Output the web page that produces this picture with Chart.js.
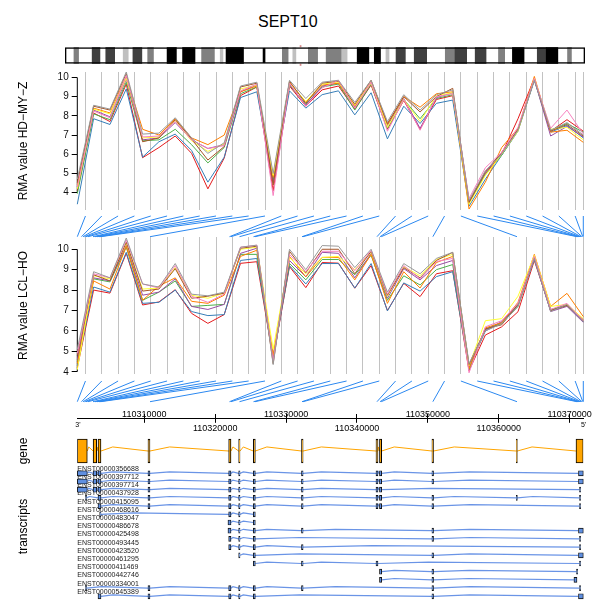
<!DOCTYPE html>
<html>
<head>
<meta charset="utf-8">
<script src="https://cdn.jsdelivr.net/npm/chart.js@4.4.1/dist/chart.umd.min.js"></script>
<style>
  body { margin: 0; background: #fff; }
  #pagina { position: relative; width: 592px; height: 601px; overflow: hidden; background: #fff; }
  #pagina canvas { position: absolute; left: 0; }
  #titulo { position: absolute; top: 13px; left: 258px; font: 16px "Liberation Sans", Arial, sans-serif; color: #000; }
</style>
</head>
<body>
<div id="pagina">
  <div id="titulo">SEPT10</div>
  <canvas id="ideograma" width="592" height="31" style="top:40px"></canvas>
  <canvas id="expr-hd" width="592" height="150" style="top:65px"></canvas>
  <canvas id="conex-1" width="592" height="28" style="top:212px"></canvas>
  <canvas id="expr-lcl" width="592" height="147" style="top:232px"></canvas>
  <canvas id="conex-2" width="592" height="26" style="top:378px"></canvas>
  <canvas id="eje" width="592" height="35" style="top:400px"></canvas>
  <canvas id="gen" width="592" height="28" style="top:437px"></canvas>
  <canvas id="transcritos" width="592" height="135" style="top:466px"></canvas>
</div>
<script>
// muestras (paleta Set1)
const sampleColors = ['#E41A1C', '#377EB8', '#4DAF4A', '#984EA3', '#FF7F00', '#FFFF33', '#A65628', '#F781BF', '#999999'];

// sondas: numero de orden y lineas verticales
const probeNo = [1, 2, 3, 4, 5, 6, 7, 8, 9, 10, 11, 12, 13, 14, 15, 16, 17, 18, 19, 20, 21, 22, 23, 24, 25, 26, 27, 28, 29, 30, 31, 32];
const probeIdx = [1.5, 2.5, 3.5, 4.5, 5.5, 6.5, 7.5, 8.5, 9.5, 10.5, 11.5, 12.5, 13.5, 14.5, 15.5, 16.5, 17.5, 18.5, 19.5, 20.5, 21.5, 22.5, 23.5, 24.5, 25.5, 26.5, 27.5, 28.5, 29.5, 30.5, 31.5, 32];
// posicion genomica de cada sonda
const probePos = [110300550, 110301143, 110301354, 110301566, 110301777, 110302060, 110302765, 110303047,
  110303329, 110303611, 110303822, 110310804, 110322017, 110322228, 110323427, 110325402,
  110325613, 110332242, 110332383, 110342820, 110343250, 110343420, 110350700, 110362565,
  110371027, 110371168, 110371309, 110371450, 110371591, 110371732, 110371845, 110371915];

const yTicks = [4, 5, 6, 7, 8, 9, 10];

// RMA HD-MY-Z, una fila por muestra
const hdMyZ = [
  [4.1, 8.15, 7.7, 9.65, 5.82, 6.35, 6.95, 6.05, 4.2, 5.8, 9.05, 9.5, 4.1, 9.55, 8.5, 9.35, 9.55, 8.35, 9.6, 7.3, 8.8, 7.3, 8.85, 9.05, 3.45, 5.0, 6.0, 7.85, 9.95, 7.2, 7.8, 7.2],
  [3.4, 7.85, 7.55, 9.4, 5.85, 6.65, 7.05, 6.2, 4.55, 5.85, 8.95, 9.25, 4.6, 9.3, 8.4, 9.1, 9.3, 8.05, 9.2, 6.8, 8.5, 7.6, 8.65, 8.82, 3.3, 4.7, 5.95, 7.2, 9.85, 7.15, 7.5, 6.85],
  [3.95, 8.1, 7.8, 9.75, 6.7, 6.75, 7.3, 6.5, 5.55, 6.35, 9.15, 9.5, 4.7, 9.6, 8.6, 9.5, 9.65, 8.3, 9.65, 7.35, 8.85, 7.85, 8.9, 9.1, 3.5, 4.95, 5.95, 7.25, 9.9, 7.25, 7.6, 7.15],
  [4.3, 8.3, 7.95, 9.9, 6.75, 6.85, 7.65, 6.75, 6.3, 6.5, 9.25, 9.6, 4.5, 9.65, 8.55, 9.55, 9.7, 8.45, 9.7, 7.5, 8.9, 7.35, 8.95, 9.2, 3.55, 5.05, 6.05, 7.3, 9.9, 6.95, 7.45, 6.9],
  [4.4, 8.4, 8.15, 10.05, 7.3, 7.0, 7.85, 6.85, 6.5, 7.0, 9.25, 9.55, 4.8, 9.75, 8.7, 9.6, 9.7, 8.5, 9.75, 7.55, 9.0, 8.45, 9.15, 9.25, 3.15, 4.55, 6.35, 7.35, 10.05, 7.15, 7.25, 6.62],
  [4.2, 8.35, 8.1, 9.95, 6.85, 6.9, 7.75, 6.7, 6.15, 6.55, 9.4, 9.6, 4.9, 9.7, 8.75, 9.65, 9.75, 8.55, 9.7, 7.4, 8.85, 7.7, 9.05, 9.2, 3.4, 4.9, 6.0, 7.2, 9.95, 7.3, 7.4, 6.75],
  [4.5, 8.5, 8.3, 10.2, 6.65, 6.85, 7.8, 6.8, 5.7, 6.4, 9.5, 9.7, 4.4, 9.8, 8.65, 9.7, 9.8, 8.6, 9.85, 7.6, 9.0, 8.2, 9.0, 9.43, 3.5, 5.1, 6.1, 7.3, 9.9, 7.2, 7.55, 6.95],
  [4.3, 8.25, 7.9, 10.1, 6.9, 6.95, 7.7, 6.75, 6.3, 6.45, 9.3, 9.65, 3.85, 9.7, 8.5, 9.45, 9.85, 8.4, 9.75, 7.2, 8.85, 7.25, 9.0, 9.15, 3.7, 5.3, 6.1, 7.4, 9.95, 7.35, 8.3, 7.05],
  [4.7, 8.55, 8.35, 10.28, 7.05, 7.1, 7.9, 6.85, 6.05, 6.6, 9.55, 9.75, 5.0, 9.85, 8.9, 9.75, 9.85, 8.7, 9.85, 7.7, 9.1, 8.3, 9.1, 9.35, 3.6, 5.15, 6.0, 7.25, 9.85, 7.25, 7.65, 7.0]
];

// RMA LCL-HO, una fila por muestra
const lclHo = [
  [4.2, 8.0, 7.85, 9.8, 7.27, 7.42, 8.02, 6.86, 6.37, 6.8, 9.31, 9.39, 4.65, 9.15, 8.12, 9.35, 9.32, 8.09, 9.2, 7.0, 8.33, 7.68, 8.8, 8.95, 4.05, 5.8, 6.2, 6.94, 9.45, 7.0, 7.3, 6.55],
  [4.3, 8.15, 7.9, 9.85, 7.35, 7.4, 8.0, 6.95, 6.75, 6.8, 9.45, 9.55, 4.7, 9.2, 8.3, 9.3, 9.3, 8.1, 9.3, 6.98, 8.35, 7.95, 8.66, 8.9, 4.2, 6.0, 6.4, 7.25, 9.5, 7.0, 7.25, 6.45],
  [4.5, 8.55, 8.4, 10.1, 7.5, 7.9, 8.45, 7.2, 7.25, 7.3, 9.75, 9.75, 4.75, 9.3, 8.5, 9.5, 9.5, 8.75, 9.7, 7.5, 8.7, 8.25, 9.0, 9.25, 4.1, 6.1, 6.35, 7.2, 9.6, 7.05, 7.25, 6.5],
  [4.6, 8.6, 8.45, 10.2, 7.75, 7.9, 8.55, 7.2, 7.05, 7.3, 9.8, 10.05, 4.6, 9.45, 8.65, 9.85, 9.8, 8.6, 9.8, 7.6, 9.05, 8.5, 9.2, 9.45, 4.25, 6.05, 6.45, 7.3, 9.55, 6.95, 7.2, 6.42],
  [4.4, 8.45, 8.05, 10.15, 7.5, 8.2, 8.6, 7.45, 7.35, 7.75, 9.65, 9.95, 4.8, 9.65, 8.65, 9.6, 9.6, 8.5, 9.75, 7.35, 8.9, 8.1, 9.35, 9.65, 4.15, 6.15, 6.4, 7.4, 9.75, 7.2, 7.84, 6.7],
  [4.1, 8.7, 8.55, 10.3, 8.05, 8.1, 9.1, 7.75, 7.6, 7.85, 10.0, 10.1, 5.1, 9.6, 8.8, 9.6, 9.65, 9.0, 9.85, 7.7, 9.15, 8.7, 9.5, 9.75, 4.3, 6.5, 6.6, 7.7, 9.7, 7.2, 7.3, 6.6],
  [4.8, 8.75, 8.45, 10.35, 7.95, 8.05, 9.05, 7.6, 7.7, 7.85, 10.05, 10.15, 4.4, 9.9, 8.85, 10.0, 10.0, 8.8, 9.9, 7.75, 9.1, 8.6, 9.45, 9.85, 4.35, 6.1, 6.3, 7.3, 9.6, 7.0, 7.25, 6.5],
  [4.9, 8.8, 8.6, 10.45, 8.3, 8.1, 9.2, 7.7, 7.4, 7.8, 10.1, 10.2, 4.55, 9.75, 8.9, 9.9, 9.9, 8.95, 9.95, 7.8, 9.2, 8.55, 9.4, 9.55, 3.95, 6.2, 6.5, 7.35, 9.65, 7.05, 7.35, 6.5],
  [5.1, 8.9, 8.6, 10.55, 8.3, 8.15, 9.3, 7.8, 7.72, 7.9, 10.1, 10.2, 4.35, 10.0, 9.0, 10.18, 10.15, 9.1, 10.0, 7.9, 9.3, 8.8, 9.55, 9.85, 4.4, 6.0, 6.35, 7.2, 9.55, 6.95, 7.3, 6.45]
];

// ideograma del cromosoma 2 (porcentaje de la longitud)
const bandStart = [1.72, 5.22, 7.84, 11.19, 13.06, 15.9, 19.63, 22.61, 26.27, 29.85, 30.97, 41.79, 43.81, 46.79, 50.22, 53.21, 56.19, 59.48, 61.72, 63.66, 67.16, 73.13, 75.0, 78.88, 83.36, 86.04, 90.82, 92.54, 96.64];
const bandEnd = [2.61, 6.72, 9.55, 12.16, 14.78, 17.01, 21.42, 25.0, 28.73, 30.37, 34.33, 42.91, 44.4, 48.58, 53.21, 54.25, 58.43, 60.67, 62.31, 65.45, 69.55, 75.0, 77.24, 80.97, 84.55, 88.28, 92.54, 94.78, 97.39];
const bandStain = ['gpos50', 'gpos75', 'gpos75', 'gpos25', 'gpos75', 'gpos50', 'gpos100', 'gpos100', 'gpos50', 'gpos25', 'gpos100', 'gpos50', 'gpos25', 'gpos50', 'gpos50', 'gpos25', 'gpos100', 'gpos100', 'gpos25', 'gpos75', 'gpos75', 'gpos50', 'gpos75', 'gpos75', 'gpos50', 'gpos100', 'gpos75', 'gpos100', 'gpos50'];
const stainColors = { gpos100: '#000000', gpos75: '#404040', gpos50: '#808080', gpos25: '#c0c0c0' };
const centromere = 38.28;
const geneLocus = 45.3;

// region genomica y eje
const gMin = 110300550;
const gMax = 110371920;
const axisTicks = [110310000, 110320000, 110330000, 110340000, 110350000, 110360000, 110370000];
const topLabels = [110310000, 110330000, 110350000, 110370000];
const bottomLabels = [110320000, 110340000, 110360000];
const strandEnds = ["3'", "5'"];

// exones del gen
const geneStart = [110300550, 110302780, 110303470, 110310520, 110321900, 110323310, 110325370, 110332170, 110342680, 110343170, 110350570, 110362470, 110370890];
const geneEnd = [110301960, 110303290, 110303890, 110310800, 110322230, 110323500, 110325660, 110332400, 110342960, 110343480, 110350800, 110362620, 110371920];

// transcritos
const transcriptIds = ['ENST00000356688', 'ENST00000397712', 'ENST00000397714', 'ENST00000437928', 'ENST00000415095', 'ENST00000468616',
  'ENST00000483047', 'ENST00000486678', 'ENST00000425498', 'ENST00000493445', 'ENST00000423520', 'ENST00000461295',
  'ENST00000411469', 'ENST00000442746', 'ENST00000334001', 'ENST00000545389'];
const transcriptExons = [
  [[110300550, 110301960], [110302780, 110303290], [110303470, 110303890], [110310520, 110310800], [110321900, 110322230], [110323310, 110323500], [110325370, 110325660], [110332170, 110332400], [110342680, 110342960], [110343170, 110343480], [110350570, 110350800], [110371240, 110371920]],
  [[110300550, 110301960], [110302780, 110303290], [110303470, 110303890], [110310520, 110310800], [110321900, 110322230], [110323310, 110323500], [110325370, 110325660], [110332170, 110332400], [110342680, 110342960], [110343170, 110343480], [110350570, 110350800], [110371240, 110371920]],
  [[110300550, 110301960], [110302780, 110303290], [110303470, 110303890], [110310520, 110310800], [110321900, 110322230], [110323310, 110323500], [110325370, 110325660], [110332170, 110332400], [110342680, 110342960], [110343170, 110343480], [110371380, 110371540]],
  [[110301700, 110301860], [110303470, 110303890], [110310520, 110310800], [110321900, 110322230], [110323310, 110323500], [110325370, 110325660], [110332170, 110332400], [110342680, 110342960], [110343170, 110343480], [110350570, 110350800], [110362470, 110362620], [110371380, 110371540]],
  [[110303470, 110303890], [110310520, 110310800], [110321900, 110322230], [110323310, 110323500], [110325370, 110325660], [110332170, 110332400], [110342680, 110342960], [110343170, 110343480], [110350570, 110350800], [110371380, 110371540]],
  [[110303700, 110303890], [110321900, 110322230], [110323310, 110323500], [110325370, 110325660]],
  [[110321800, 110322230], [110323310, 110323500], [110325370, 110325660]],
  [[110321800, 110322230], [110323310, 110323500], [110325370, 110325660], [110332170, 110332400], [110350570, 110350800], [110371240, 110371920]],
  [[110321900, 110322230], [110323310, 110323500], [110325370, 110325660], [110350570, 110350800], [110371380, 110371540]],
  [[110321900, 110322230], [110323310, 110323500], [110325370, 110325660], [110332170, 110332400], [110371380, 110371540]],
  [[110323310, 110323500], [110325370, 110325660], [110350570, 110350800], [110371240, 110371920]],
  [[110325370, 110325660], [110332170, 110332400], [110342680, 110342960], [110371380, 110371540]],
  [[110343170, 110343480], [110350570, 110350800], [110370960, 110371120]],
  [[110343170, 110343480], [110350570, 110350800], [110370600, 110371030]],
  [[110301700, 110301860], [110310520, 110310800], [110321900, 110322230], [110323310, 110323500], [110325370, 110325660], [110332170, 110332400], [110350570, 110350800], [110371380, 110371540]],
  [[110303470, 110303890], [110310520, 110310800], [110321900, 110322230], [110323310, 110323500], [110325370, 110325660], [110350570, 110350800], [110371240, 110371920]]
];

const FUENTE = '"Liberation Sans", Arial, Helvetica, sans-serif';
Chart.defaults.font.family = FUENTE;
Chart.defaults.color = '#000';
Chart.defaults.animation = false;
Chart.defaults.responsive = false;
Chart.defaults.plugins.legend.display = false;
Chart.defaults.plugins.tooltip.enabled = false;

// fija el ancho/alto de un eje para que todas las areas queden alineadas
const ancho = (w) => (scale) => { scale.width = w; scale.paddingTop = 0; scale.paddingBottom = 0; };
const alto = (h) => (scale) => { scale.height = h; scale.paddingLeft = 0; scale.paddingRight = 0; };
const fijarTicks = (valores) => (scale) => { scale.ticks = valores.map(v => ({ value: v })); };

const AREA_IZQ = 77.3;
const AREA_DER = 8.7;

function tituloEje(texto) {
  return { display: true, text: texto, font: { size: 12 }, padding: { top: 16.5, bottom: 0 } };
}

function graficoExpresion(id, valores, yMin, yMax, titulo, padTop, padBottom) {
  const datasets = valores.map((serie, s) => ({
    data: serie.map((v, i) => ({ x: probeNo[i], y: v })),
    borderColor: sampleColors[s],
    borderWidth: 1,
    pointRadius: 0,
    clip: false,
    order: valores.length - s
  }));
  // linea del eje y, solo entre el primer y el ultimo tick
  datasets.push({
    data: [{ x: probeNo[0], y: yTicks[0] }, { x: probeNo[0], y: yTicks[yTicks.length - 1] }],
    borderColor: '#000',
    borderWidth: 1,
    pointRadius: 0,
    clip: false,
    order: valores.length + 1
  });

  return new Chart(document.getElementById(id), {
    type: 'line',
    data: { datasets },
    options: {
      devicePixelRatio: 1,
      layout: { padding: { left: 0, right: AREA_DER, top: padTop, bottom: padBottom } },
      scales: {
        x: {
          type: 'linear', min: 1, max: 32,
          afterBuildTicks: fijarTicks(probeIdx),
          ticks: { display: false },
          grid: { color: '#c2c2c2', drawTicks: false },
          border: { display: false },
          afterFit: alto(0)
        },
        y: {
          type: 'linear', min: yMin, max: yMax,
          afterBuildTicks: fijarTicks(yTicks),
          ticks: { font: { size: 10 }, padding: 3, color: '#111' },
          grid: { drawOnChartArea: false, tickLength: 5.6, color: '#000' },
          border: { display: false },
          title: tituloEje(titulo),
          afterFit: ancho(AREA_IZQ)
        }
      }
    }
  });
}

function graficoConexiones(id, padTop, padBottom) {
  const datasets = probePos.map((g, j) => ({
    data: [
      { x: (g - gMin) / (gMax - gMin), y: 0 },
      { x: (probeIdx[j] - 1) / (probeNo.length - 1), y: 1 }
    ],
    borderColor: '#2b88f0',
    borderWidth: 1,
    pointRadius: 0,
    clip: false,
    indexAxis: 'y'
  }));
  return new Chart(document.getElementById(id), {
    type: 'line',
    data: { datasets },
    options: {
      devicePixelRatio: 1,
      layout: { padding: { left: AREA_IZQ, right: AREA_DER, top: padTop, bottom: padBottom } },
      scales: {
        x: { type: 'linear', min: 0, max: 1, display: false },
        y: { type: 'linear', min: 0, max: 1, display: false }
      }
    }
  });
}

// puntos de los intrones: sube poco despues del exon y baja hasta el siguiente
function intrones(exones, fila, alturaPico) {
  const puntos = [];
  for (let i = 0; i < exones.length - 1; i++) {
    const fin = exones[i][1];
    const sig = exones[i + 1][0];
    puntos.push({ x: fin, y: fila });
    puntos.push({ x: fin + (sig - fin) * 0.25, y: fila + alturaPico });
    puntos.push({ x: sig, y: fila });
  }
  return puntos;
}

// ---- ideograma ----
new Chart(document.getElementById('ideograma'), {
  type: 'bar',
  data: {
    datasets: [
      {
        data: [{ x: [0, centromere], y: 0 }, { x: [centromere, 100], y: 0 }],
        backgroundColor: 'rgba(0,0,0,0)', borderColor: '#000', borderWidth: 1, borderSkipped: false,
        barThickness: 16, grouped: false, order: 0
      },
      {
        data: bandStart.map((s, i) => ({ x: [s, bandEnd[i]], y: 0 })),
        backgroundColor: bandStain.map(st => stainColors[st]), borderWidth: 0,
        barThickness: 16, grouped: false, order: 1
      },
      {
        // fondo blanco (gneg) de ambos brazos
        data: [{ x: [0, centromere], y: 0 }, { x: [centromere, 100], y: 0 }],
        backgroundColor: '#fff', borderWidth: 0, barThickness: 16, grouped: false, order: 2
      },
      {
        data: [{ x: [geneLocus - 0.1, geneLocus + 0.1], y: 0 }],
        backgroundColor: '#d88a8a', borderWidth: 0, barThickness: 20, grouped: false, order: 3
      }
    ]
  },
  options: {
    devicePixelRatio: 1,
    indexAxis: 'y',
    layout: { padding: { left: 65, right: 7 } },
    scales: {
      x: { type: 'linear', min: 0, max: 100, display: false },
      y: { type: 'linear', min: -1, max: 1, offset: false, display: false }
    }
  }
});

// ---- paneles de expresion y conexiones a la posicion genomica ----
graficoExpresion('expr-hd', hdMyZ, 3.1, 10.28, 'RMA value HD\u2212MY\u2212Z', 7, 5);
graficoConexiones('conex-1', 4, 3.3);
graficoExpresion('expr-lcl', lclHo, 3.89, 10.6, 'RMA value LCL\u2212HO', 5, 5);
graficoConexiones('conex-2', 3, 2.3);

// ---- eje genomico ----
const extremos = {
  id: 'extremos',
  afterDraw(chart) {
    const { ctx, chartArea } = chart;
    ctx.save();
    ctx.font = '7px ' + FUENTE;
    ctx.fillStyle = '#000';
    ctx.textBaseline = 'middle';
    ctx.textAlign = 'left';
    ctx.fillText(strandEnds[0], chartArea.left - 2, chartArea.bottom + 7);
    ctx.textAlign = 'right';
    ctx.fillText(strandEnds[1], chartArea.right + 3, chartArea.bottom + 7);
    ctx.restore();
  }
};

new Chart(document.getElementById('eje'), {
  type: 'line',
  data: { datasets: [] },
  plugins: [extremos],
  options: {
    devicePixelRatio: 1,
    layout: { padding: { left: AREA_IZQ, right: AREA_DER } },
    scales: {
      x: {
        type: 'linear', position: 'bottom', min: gMin, max: gMax, display: true,
        afterBuildTicks: fijarTicks(axisTicks),
        ticks: { autoSkip: false, maxRotation: 0, minRotation: 0, padding: 0, font: { size: 9 },
          callback: v => bottomLabels.includes(v) ? String(v) : '' },
        grid: { color: '#000', lineWidth: 1, tickLength: 4.5 },
        border: { display: true, color: '#000', width: 1 },
        afterFit: alto(16.7)
      },
      xArriba: {
        // etiquetas espejadas para que queden pegadas a la linea del eje
        type: 'linear', axis: 'x', position: 'top', min: gMin, max: gMax, display: true,
        afterBuildTicks: fijarTicks(axisTicks),
        ticks: { autoSkip: false, maxRotation: 0, minRotation: 0, mirror: true, padding: -5, font: { size: 9 },
          callback: v => topLabels.includes(v) ? String(v) : '' },
        grid: { display: false, drawTicks: false },
        border: { display: false },
        afterFit: alto(14)
      },
      y: { display: false }
    }
  }
});

// ---- gen ----
new Chart(document.getElementById('gen'), {
  type: 'bar',
  data: {
    datasets: [
      {
        type: 'bar',
        data: geneStart.map((s, i) => ({ x: [s, geneEnd[i]], y: 0 })),
        backgroundColor: '#FFA500', borderColor: '#000', borderWidth: 1, borderSkipped: false,
        barThickness: 24, grouped: false, order: 0
      },
      {
        type: 'line',
        data: intrones(geneStart.map((s, i) => [s, geneEnd[i]]), 0, 0.29),
        borderColor: '#FFA500', borderWidth: 1, pointRadius: 0, indexAxis: 'x', clip: false, order: 1
      }
    ]
  },
  options: {
    devicePixelRatio: 1,
    indexAxis: 'y',
    layout: { padding: { left: 0, right: AREA_DER } },
    scales: {
      x: { type: 'linear', min: gMin, max: gMax, display: false },
      y: {
        type: 'linear', min: -1, max: 1, offset: false,
        ticks: { display: false }, grid: { display: false }, border: { display: false },
        title: tituloEje('gene'),
        afterFit: ancho(AREA_IZQ)
      }
    }
  }
});

// ---- transcritos ----
const nombresTranscritos = {
  id: 'nombresTranscritos',
  beforeDatasetsDraw(chart) {
    const { ctx, chartArea, scales: { y } } = chart;
    ctx.save();
    ctx.font = '7px ' + FUENTE;
    ctx.fillStyle = '#222';
    ctx.textBaseline = 'middle';
    ctx.textAlign = 'left';
    transcriptIds.forEach((id, k) => ctx.fillText(id, chartArea.left, y.getPixelForValue(k - 0.53)));
    ctx.restore();
  }
};

const lineasTranscritos = transcriptExons.map((exones, k) => ({
  type: 'line',
  data: intrones(exones, k, -0.17),
  borderColor: '#6a94e6', borderWidth: 1.2, pointRadius: 0, indexAxis: 'x', clip: false, order: 1
}));

new Chart(document.getElementById('transcritos'), {
  type: 'bar',
  data: {
    datasets: [
      {
        type: 'bar',
        data: transcriptExons.flatMap((exones, k) => exones.map(([s, e]) => ({ x: [s, e], y: k }))),
        backgroundColor: '#5f8fe0', borderColor: '#111', borderWidth: 0.9, borderSkipped: false,
        barThickness: 5, grouped: false, clip: false, order: 0
      },
      ...lineasTranscritos
    ]
  },
  plugins: [nombresTranscritos],
  options: {
    devicePixelRatio: 1,
    indexAxis: 'y',
    layout: { padding: { left: 0, right: AREA_DER, bottom: 14 } },
    scales: {
      x: { type: 'linear', min: gMin, max: gMax, display: false },
      y: {
        type: 'linear', min: -0.89, max: 13.866, reverse: true, offset: false,
        ticks: { display: false }, grid: { display: false }, border: { display: false },
        title: tituloEje('transcripts'),
        afterFit: ancho(AREA_IZQ)
      }
    }
  }
});
</script>
</body>
</html>
